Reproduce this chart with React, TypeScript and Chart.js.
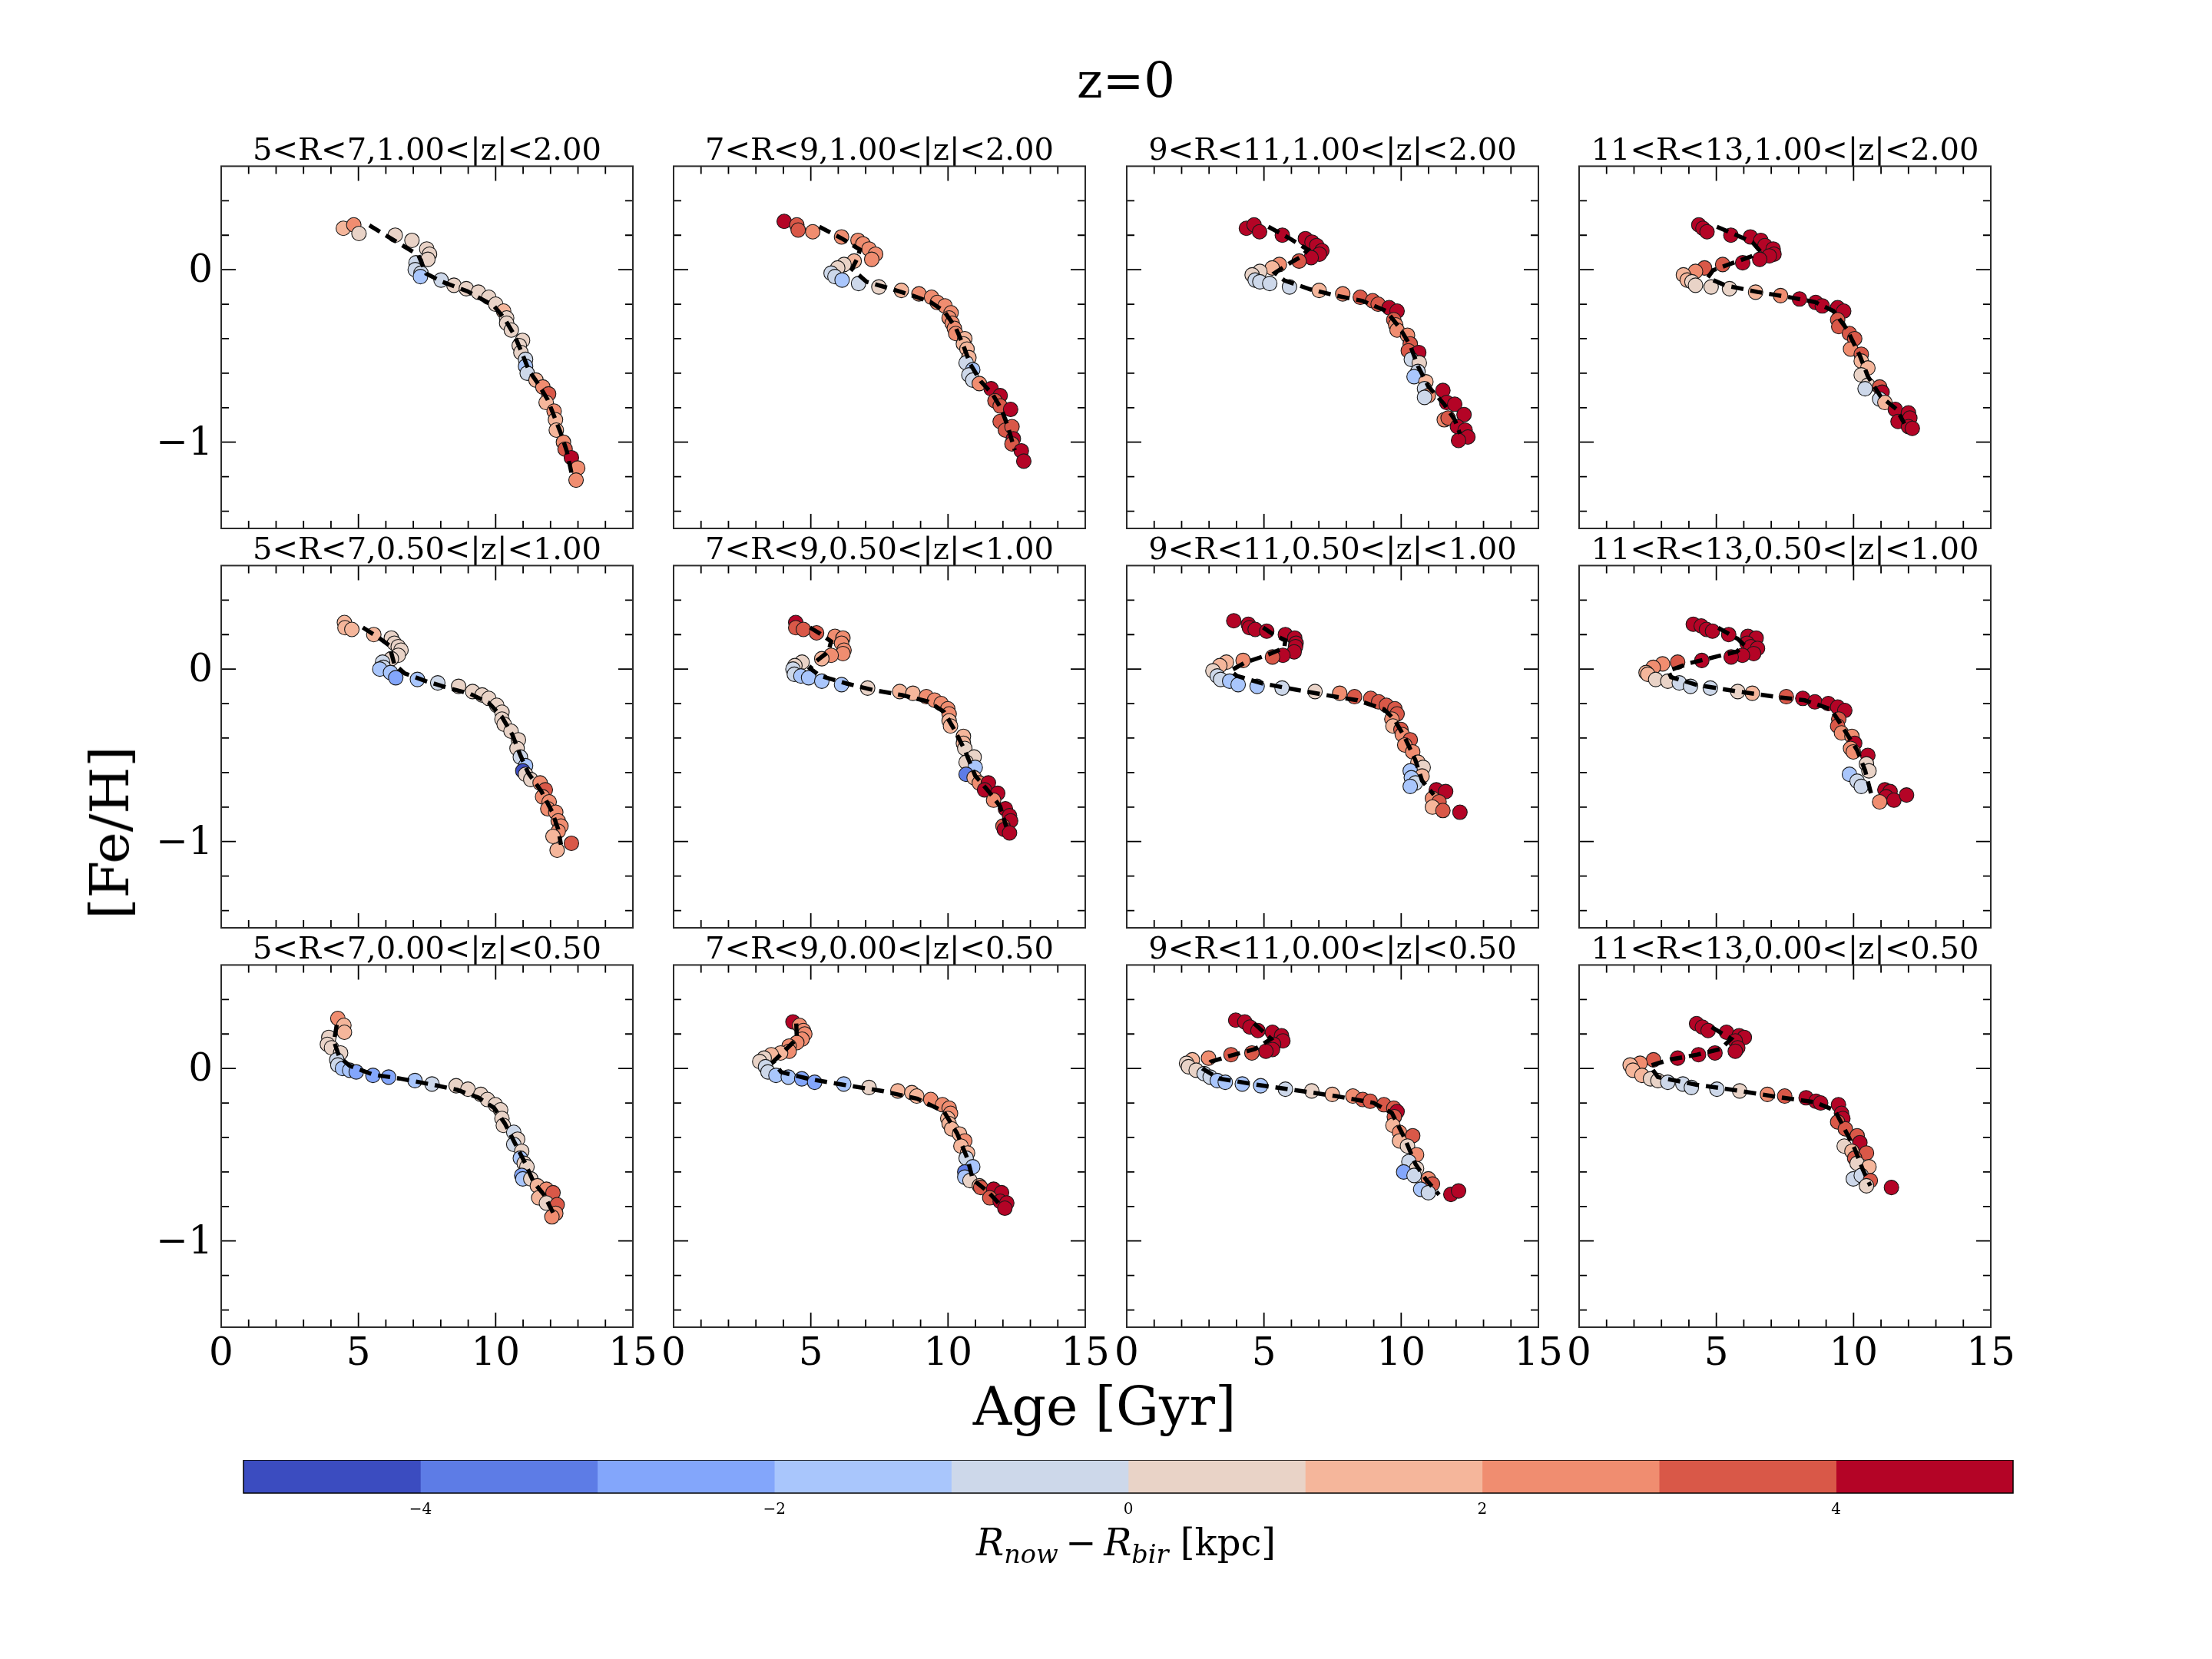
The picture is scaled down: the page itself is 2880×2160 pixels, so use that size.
import React, { useEffect, useRef } from 'react';
import { Chart, registerables } from 'chart.js';
Chart.register(...registerables);

const FONT = "'DejaVu Serif', serif";

// ---------- colour scale (coolwarm, 10 levels, -5..5 kpc) ----------
const CB_EDGES = [-5, -4, -3, -2, -1, 0, 1, 2, 3, 4, 5];
const CB_COLORS = ['#3b4cc0', '#5d7ce6', '#83a6fb', '#a9c6fc', '#cdd8ea', '#e9d3c7', '#f5b69b', '#f08d70', '#d95848', '#b40426'];
const CB_TICKS = [-4, -2, 0, 2, 4];

// ---------- axes ----------
const X_MAJOR = [0, 5, 10, 15];
const X_MINOR = [1, 2, 3, 4, 6, 7, 8, 9, 11, 12, 13, 14];
const Y_MAJOR = [-1, 0];
const Y_MINOR = [-1.4, -1.2, -0.8, -0.6, -0.4, -0.2, 0.2, 0.4];

const R_BINS = ['5<R<7', '7<R<9', '9<R<11', '11<R<13'];
const Z_BINS = ['1.00<|z|<2.00', '0.50<|z|<1.00', '0.00<|z|<0.50'];

// ---------- data: [age, [Fe/H], Rnow-Rbir] ----------
const PTS_R57_Z12 = [[4.45,0.24,1.5],[4.83,0.26,2.5],[5.02,0.21,0.5],[6.34,0.20,0.5],[6.95,0.17,0.5],[7.49,0.12,0.5],[7.59,0.09,0.5],[7.53,0.06,0.5],[7.10,0.04,-0.5],[7.07,0.00,-0.5],[7.28,-0.02,-0.5],[7.26,-0.04,-1.5],[8.01,-0.06,-0.5],[8.48,-0.09,0.5],[8.93,-0.11,0.5],[9.37,-0.13,0.5],[9.75,-0.16,0.5],[10.0,-0.20,0.5],[10.29,-0.24,1.5],[10.40,-0.28,0.5],[10.40,-0.31,0.5],[10.57,-0.35,0.5],[10.98,-0.41,0.5],[10.86,-0.44,0.5],[10.92,-0.48,0.5],[11.09,-0.52,-0.5],[11.09,-0.56,-1.5],[11.15,-0.60,-0.5],[11.47,-0.64,1.5],[11.72,-0.68,2.5],[11.93,-0.72,3.5],[11.84,-0.77,1.5],[12.13,-0.82,2.5],[12.18,-0.87,1.5],[12.21,-0.93,1.5],[12.47,-1.00,2.5],[12.53,-1.04,3.5],[12.76,-1.09,4.5],[12.99,-1.15,2.5],[12.93,-1.22,2.5]];
const LINE_R57_Z12 = [[5.40,0.257],[6.32,0.168],[7.18,0.086],[7.47,-0.023],[8.05,-0.070],[8.97,-0.125],[9.94,-0.210],[10.34,-0.288],[10.69,-0.382],[10.98,-0.491],[11.21,-0.584],[11.55,-0.662],[11.90,-0.755],[12.13,-0.849],[12.36,-0.942],[12.59,-1.051],[12.76,-1.176]];

const PTS_R79_Z12 = [[4.03,0.28,4.5],[4.49,0.26,3.5],[4.54,0.23,3.5],[5.07,0.22,2.5],[6.12,0.19,2.5],[6.72,0.17,2.5],[6.90,0.15,2.5],[7.12,0.12,2.5],[7.36,0.09,2.5],[7.22,0.06,2.5],[6.58,0.05,1.5],[6.21,0.03,0.5],[5.98,0.01,0.5],[5.74,-0.02,-0.5],[5.88,-0.04,-0.5],[6.14,-0.06,-1.5],[6.74,-0.08,-0.5],[7.48,-0.10,0.5],[8.30,-0.12,1.5],[8.94,-0.14,2.5],[9.40,-0.16,2.5],[9.61,-0.19,2.5],[9.89,-0.21,2.5],[10.11,-0.25,2.5],[10.04,-0.28,2.5],[10.15,-0.31,2.5],[10.23,-0.34,2.5],[10.28,-0.37,2.5],[10.61,-0.40,1.5],[10.56,-0.43,1.5],[10.69,-0.46,1.5],[10.76,-0.51,1.5],[10.66,-0.54,-0.5],[10.90,-0.58,-1.5],[10.76,-0.61,-0.5],[10.90,-0.64,-0.5],[11.14,-0.66,2.5],[11.57,-0.69,4.5],[11.90,-0.73,4.5],[11.71,-0.76,3.5],[11.90,-0.79,3.5],[12.28,-0.81,4.5],[11.90,-0.88,3.5],[12.09,-0.93,3.5],[12.33,-0.91,3.5],[12.38,-0.98,4.5],[12.33,-1.01,3.5],[12.67,-1.05,4.5],[12.76,-1.11,4.5]];
const LINE_R79_Z12 = [[5.31,0.249],[6.12,0.182],[6.79,0.116],[6.69,0.064],[6.50,0.004],[7.03,-0.070],[7.84,-0.107],[8.60,-0.144],[9.37,-0.188],[9.85,-0.240],[10.28,-0.336],[10.56,-0.440],[10.80,-0.544],[11.19,-0.647],[11.62,-0.721],[11.95,-0.810],[12.19,-0.914],[12.43,-1.047]];

const PTS_R911_Z12 = [[4.36,0.24,4.5],[4.64,0.26,4.5],[4.84,0.22,4.5],[5.67,0.20,4.5],[6.51,0.18,4.5],[6.75,0.16,4.5],[6.92,0.14,4.5],[7.11,0.11,4.5],[7.02,0.09,4.5],[6.72,0.07,4.5],[6.28,0.05,3.5],[5.56,0.03,2.5],[5.30,0.01,1.5],[4.85,-0.01,0.5],[4.57,-0.03,0.5],[4.68,-0.06,-0.5],[4.85,-0.07,-0.5],[5.21,-0.08,-0.5],[5.93,-0.10,-0.5],[7.01,-0.12,1.5],[7.87,-0.14,2.5],[8.51,-0.16,3.5],[8.96,-0.18,3.5],[9.16,-0.20,3.5],[9.56,-0.22,4.5],[9.85,-0.24,4.5],[9.73,-0.29,3.5],[9.80,-0.32,2.5],[9.85,-0.35,2.5],[10.23,-0.38,2.5],[10.33,-0.43,3.5],[10.26,-0.47,3.5],[10.64,-0.48,4.5],[10.37,-0.52,-0.5],[10.66,-0.54,0.5],[10.61,-0.59,-0.5],[10.47,-0.62,-1.5],[10.90,-0.65,1.5],[10.85,-0.69,-0.5],[10.99,-0.73,2.5],[10.85,-0.74,-0.5],[11.52,-0.70,4.5],[11.66,-0.77,4.5],[11.95,-0.78,4.5],[11.57,-0.87,2.5],[11.71,-0.86,3.5],[12.29,-0.84,4.5],[12.05,-0.91,4.5],[12.33,-0.93,4.5],[12.43,-0.97,4.5],[12.09,-0.99,4.5]];
const LINE_R911_Z12 = [[5.16,0.249],[5.93,0.182],[6.60,0.116],[6.36,0.076],[5.93,0.037],[5.40,-0.018],[5.74,-0.062],[6.69,-0.114],[7.65,-0.151],[8.60,-0.181],[9.46,-0.240],[9.94,-0.336],[10.33,-0.440],[10.61,-0.559],[10.99,-0.677],[11.57,-0.781],[11.95,-0.870],[12.14,-0.951]];

const PTS_R1113_Z12 = [[4.36,0.26,4.5],[4.51,0.24,4.5],[4.66,0.22,4.5],[5.53,0.20,4.5],[6.24,0.19,4.5],[6.62,0.17,4.5],[6.77,0.14,4.5],[7.07,0.12,4.5],[7.10,0.09,4.5],[6.93,0.08,4.5],[6.58,0.06,4.5],[5.96,0.04,4.5],[5.23,0.03,3.5],[4.57,0.01,3.5],[4.24,-0.01,2.5],[3.80,-0.03,1.5],[3.94,-0.06,1.5],[4.11,-0.07,0.5],[4.24,-0.09,0.5],[4.81,-0.10,0.5],[5.48,-0.11,0.5],[6.43,-0.13,1.5],[7.34,-0.15,2.5],[8.03,-0.17,4.5],[8.62,-0.19,4.5],[8.86,-0.21,4.5],[9.42,-0.22,4.5],[9.64,-0.24,4.5],[9.42,-0.29,3.5],[9.46,-0.33,3.5],[9.85,-0.37,3.5],[10.04,-0.40,3.5],[9.89,-0.46,2.5],[10.28,-0.49,3.5],[10.28,-0.53,1.5],[10.52,-0.57,1.5],[10.28,-0.61,0.5],[10.52,-0.67,0.5],[10.42,-0.69,-0.5],[10.95,-0.68,3.5],[11.04,-0.71,4.5],[10.95,-0.75,-0.5],[11.14,-0.77,1.5],[11.52,-0.81,4.5],[11.62,-0.88,4.5],[12.00,-0.83,4.5],[12.05,-0.86,4.5],[12.00,-0.91,4.5],[12.14,-0.92,4.5]];
const LINE_R1113_Z12 = [[5.02,0.249],[5.74,0.200],[6.31,0.160],[6.55,0.116],[6.31,0.079],[5.64,0.041],[4.88,-0.003],[4.68,-0.047],[5.35,-0.092],[6.50,-0.129],[7.65,-0.159],[8.60,-0.188],[9.27,-0.240],[9.75,-0.344],[10.23,-0.499],[10.52,-0.618],[10.99,-0.736],[11.57,-0.810],[11.85,-0.892]];

const PTS_R57_Z051 = [[4.49,0.27,1.5],[4.51,0.24,1.5],[4.76,0.23,1.5],[5.56,0.20,1.5],[6.20,0.18,0.5],[6.31,0.15,0.5],[6.45,0.13,0.5],[6.55,0.11,0.5],[6.45,0.08,0.5],[6.20,0.06,0.5],[5.88,0.04,-0.5],[5.91,0.01,-0.5],[5.78,0.00,-1.5],[6.17,-0.02,-1.5],[6.36,-0.05,-2.5],[7.15,-0.06,-1.5],[7.89,-0.08,-0.5],[8.65,-0.10,0.5],[9.16,-0.13,0.5],[9.51,-0.15,0.5],[9.75,-0.17,0.5],[10.04,-0.21,0.5],[10.23,-0.25,0.5],[10.23,-0.29,0.5],[10.31,-0.32,0.5],[10.56,-0.36,0.5],[10.83,-0.41,0.5],[10.78,-0.46,0.5],[10.90,-0.51,-0.5],[11.09,-0.56,-1.5],[10.99,-0.59,-4.5],[11.09,-0.61,0.5],[11.28,-0.64,0.5],[11.62,-0.66,2.5],[11.81,-0.70,3.5],[11.71,-0.74,2.5],[11.95,-0.77,2.5],[11.90,-0.81,2.5],[12.19,-0.83,2.5],[12.28,-0.88,2.5],[12.38,-0.91,2.5],[12.28,-0.94,2.5],[12.09,-0.97,1.5],[12.76,-1.01,3.5],[12.24,-1.05,1.5]];
const LINE_R57_Z051 = [[5.16,0.241],[5.74,0.182],[6.12,0.138],[6.21,0.086],[6.31,0.027],[6.69,-0.025],[7.46,-0.070],[8.22,-0.107],[9.08,-0.144],[9.75,-0.196],[10.23,-0.277],[10.61,-0.381],[10.90,-0.499],[11.19,-0.603],[11.66,-0.707],[12.05,-0.825],[12.28,-0.929],[12.38,-1.018]];

const PTS_R79_Z051 = [[4.45,0.27,4.5],[4.45,0.24,3.5],[4.73,0.23,3.5],[5.21,0.21,3.5],[5.88,0.19,2.5],[6.17,0.18,2.5],[6.12,0.15,2.5],[6.21,0.11,2.5],[6.17,0.09,2.5],[5.74,0.08,2.5],[5.40,0.06,1.5],[4.68,0.04,0.5],[4.42,0.02,0.5],[4.35,0.00,-0.5],[4.40,-0.03,-0.5],[4.64,-0.04,-1.5],[4.92,-0.05,-1.5],[5.40,-0.07,-1.5],[6.12,-0.09,-1.5],[7.07,-0.11,0.5],[8.24,-0.13,1.5],[8.72,-0.14,1.5],[9.21,-0.16,2.5],[9.51,-0.18,2.5],[9.75,-0.20,2.5],[9.99,-0.23,2.5],[10.04,-0.26,2.5],[10.04,-0.30,1.5],[10.09,-0.33,1.5],[10.56,-0.39,1.5],[10.56,-0.43,1.5],[10.61,-0.46,0.5],[10.95,-0.51,0.5],[10.66,-0.54,0.5],[10.99,-0.57,-1.5],[10.66,-0.61,-3.5],[10.95,-0.63,1.5],[11.14,-0.66,2.5],[11.47,-0.66,4.5],[11.33,-0.70,4.5],[11.81,-0.72,4.5],[11.66,-0.76,2.5],[12.09,-0.81,4.5],[12.24,-0.85,4.5],[12.28,-0.88,4.5],[12.00,-0.91,3.5],[12.05,-0.93,4.5],[12.24,-0.95,4.5]];
const LINE_R79_Z051 = [[4.97,0.241],[5.35,0.204],[5.74,0.160],[5.64,0.101],[5.16,0.041],[4.97,0.004],[5.35,-0.040],[6.31,-0.084],[7.27,-0.121],[8.32,-0.151],[9.27,-0.188],[9.85,-0.247],[10.23,-0.351],[10.61,-0.470],[10.99,-0.618],[11.47,-0.707],[11.90,-0.796],[12.12,-0.914]];

const PTS_R911_Z051 = [[3.90,0.28,4.5],[4.43,0.26,4.5],[4.47,0.24,4.5],[4.68,0.23,4.5],[5.10,0.22,4.5],[5.78,0.20,4.5],[6.12,0.18,4.5],[6.17,0.15,4.5],[6.15,0.13,4.5],[6.10,0.10,4.5],[5.69,0.08,4.5],[5.31,0.07,3.5],[4.24,0.05,2.5],[3.63,0.04,1.5],[3.39,0.02,1.5],[3.14,-0.01,0.5],[3.30,-0.04,-0.5],[3.42,-0.06,-0.5],[3.75,-0.07,-1.5],[4.06,-0.09,-1.5],[4.75,-0.10,-1.5],[5.66,-0.11,-0.5],[6.86,-0.13,0.5],[7.76,-0.14,2.5],[8.30,-0.16,3.5],[8.89,-0.17,3.5],[9.18,-0.19,3.5],[9.46,-0.21,3.5],[9.77,-0.23,3.5],[9.85,-0.26,3.5],[9.66,-0.29,2.5],[9.70,-0.33,1.5],[9.99,-0.35,3.5],[10.04,-0.38,2.5],[10.33,-0.41,3.5],[10.13,-0.44,2.5],[10.42,-0.48,2.5],[10.61,-0.54,1.5],[10.80,-0.57,0.5],[10.33,-0.59,-1.5],[10.76,-0.62,1.5],[10.37,-0.63,-1.5],[10.52,-0.66,-0.5],[10.33,-0.68,-1.5],[11.28,-0.70,4.5],[11.62,-0.71,4.5],[11.14,-0.75,2.5],[11.38,-0.77,3.5],[11.14,-0.80,1.5],[11.52,-0.82,3.5],[12.14,-0.83,4.5]];
const LINE_R911_Z051 = [[4.97,0.241],[5.31,0.204],[5.78,0.167],[5.74,0.123],[5.07,0.079],[4.30,0.037],[3.78,-0.010],[4.02,-0.040],[4.97,-0.084],[6.21,-0.121],[7.27,-0.151],[8.41,-0.181],[9.37,-0.233],[9.75,-0.292],[10.13,-0.396],[10.52,-0.529],[10.76,-0.647],[11.19,-0.729]];

const PTS_R1113_Z051 = [[4.16,0.26,4.5],[4.45,0.25,4.5],[4.64,0.23,4.5],[4.86,0.22,4.5],[5.45,0.20,4.5],[6.15,0.19,4.5],[6.45,0.18,4.5],[6.12,0.15,4.5],[6.26,0.13,4.5],[6.50,0.12,4.5],[6.36,0.09,4.5],[5.95,0.08,4.5],[5.54,0.07,4.5],[4.47,0.05,4.5],[3.59,0.04,3.5],[3.04,0.03,2.5],[2.70,0.01,2.5],[2.44,-0.02,1.5],[2.50,-0.03,1.5],[2.79,-0.06,0.5],[3.23,-0.07,0.5],[3.65,-0.08,-0.5],[4.06,-0.10,-0.5],[4.78,-0.11,-0.5],[5.78,-0.13,0.5],[6.31,-0.14,1.5],[7.55,-0.16,3.5],[8.15,-0.17,4.5],[8.59,-0.19,4.5],[9.08,-0.20,4.5],[9.42,-0.22,4.5],[9.68,-0.24,4.5],[9.46,-0.29,3.5],[9.42,-0.33,3.5],[9.56,-0.37,2.5],[9.94,-0.39,2.5],[10.04,-0.43,4.5],[9.89,-0.46,2.5],[9.99,-0.48,2.5],[10.52,-0.50,4.5],[10.47,-0.55,0.5],[10.56,-0.59,0.5],[9.85,-0.61,-1.5],[10.13,-0.65,-0.5],[10.28,-0.68,-0.5],[11.14,-0.70,4.5],[11.33,-0.71,4.5],[11.19,-0.74,4.5],[11.47,-0.76,4.5],[10.95,-0.77,2.5],[11.93,-0.73,4.5]];
const LINE_R1113_Z051 = [[5.07,0.239],[5.78,0.175],[6.02,0.138],[5.74,0.101],[4.97,0.071],[4.02,0.034],[3.25,-0.010],[3.35,-0.047],[4.30,-0.092],[5.74,-0.129],[7.07,-0.159],[8.22,-0.181],[9.18,-0.233],[9.66,-0.351],[10.13,-0.470],[10.42,-0.588],[10.66,-0.736]];

const PTS_R57_Z005 = [[4.25,0.29,2.5],[4.47,0.25,1.5],[4.49,0.21,1.5],[3.92,0.18,0.5],[3.87,0.14,0.5],[4.02,0.12,0.5],[4.35,0.09,0.5],[4.21,0.05,-0.5],[4.25,0.02,-0.5],[4.42,0.00,-1.5],[4.68,-0.01,-1.5],[4.92,-0.02,-2.5],[5.53,-0.04,-2.5],[6.10,-0.05,-2.5],[7.06,-0.07,-1.5],[7.68,-0.09,-0.5],[8.56,-0.10,0.5],[8.99,-0.12,0.5],[9.46,-0.15,0.5],[9.70,-0.18,0.5],[9.99,-0.21,0.5],[10.18,-0.24,0.5],[10.23,-0.29,0.5],[10.28,-0.33,0.5],[10.66,-0.37,-0.5],[10.80,-0.41,0.5],[10.66,-0.44,-0.5],[10.95,-0.48,0.5],[10.90,-0.52,-1.5],[11.04,-0.55,0.5],[11.14,-0.57,0.5],[10.95,-0.62,-2.5],[10.99,-0.64,-1.5],[11.28,-0.64,0.5],[11.52,-0.68,1.5],[11.85,-0.70,2.5],[12.09,-0.72,3.5],[11.57,-0.75,1.5],[11.85,-0.78,0.5],[12.24,-0.79,3.5],[12.19,-0.84,2.5],[12.05,-0.86,2.5]];
const LINE_R57_Z005 = [[4.21,0.253],[4.11,0.157],[4.30,0.068],[4.68,0.016],[5.54,-0.036],[6.50,-0.058],[7.74,-0.095],[8.60,-0.124],[9.37,-0.169],[9.94,-0.228],[10.33,-0.317],[10.71,-0.436],[11.09,-0.554],[11.38,-0.658],[11.76,-0.732],[12.09,-0.836]];

const PTS_R79_Z005 = [[4.35,0.27,4.5],[4.59,0.25,2.5],[4.73,0.22,2.5],[4.78,0.20,2.5],[4.68,0.17,2.5],[4.49,0.15,2.5],[4.21,0.13,2.5],[4.21,0.10,2.5],[3.90,0.09,1.5],[3.56,0.08,1.5],[3.30,0.06,0.5],[3.14,0.04,0.5],[3.35,0.01,-0.5],[3.44,-0.02,-0.5],[3.73,-0.04,-1.5],[4.18,-0.05,-1.5],[4.67,-0.06,-2.5],[5.14,-0.08,-2.5],[6.20,-0.09,-1.5],[7.12,-0.11,0.5],[8.17,-0.13,1.5],[8.68,-0.14,1.5],[8.86,-0.16,1.5],[9.37,-0.18,2.5],[9.80,-0.21,2.5],[10.04,-0.23,2.5],[10.09,-0.26,2.5],[9.99,-0.29,1.5],[10.04,-0.32,1.5],[10.13,-0.35,1.5],[10.42,-0.38,1.5],[10.61,-0.42,2.5],[10.47,-0.45,1.5],[10.71,-0.49,1.5],[10.66,-0.52,-0.5],[10.90,-0.57,-1.5],[10.61,-0.60,-3.5],[10.61,-0.63,-1.5],[10.80,-0.65,0.5],[11.14,-0.68,1.5],[11.19,-0.69,3.5],[11.66,-0.70,4.5],[11.95,-0.72,4.5],[11.52,-0.75,3.5],[11.90,-0.77,4.5],[12.14,-0.78,4.5],[12.07,-0.81,4.5]];
const LINE_R79_Z005 = [[4.47,0.261],[4.49,0.172],[4.11,0.113],[3.63,0.039],[3.92,-0.021],[4.97,-0.062],[6.21,-0.095],[7.65,-0.132],[8.89,-0.176],[9.85,-0.250],[10.33,-0.376],[10.71,-0.524],[10.90,-0.643],[11.47,-0.717],[11.95,-0.799]];

const PTS_R911_Z005 = [[3.97,0.28,4.5],[4.30,0.27,4.5],[4.49,0.24,4.5],[4.78,0.22,4.5],[5.31,0.21,4.5],[5.64,0.19,4.5],[5.69,0.16,4.5],[5.35,0.14,4.5],[5.31,0.11,4.5],[5.07,0.10,4.5],[4.56,0.09,3.5],[3.80,0.08,3.5],[2.98,0.06,2.5],[2.39,0.05,1.5],[2.18,0.03,0.5],[2.25,0.01,0.5],[2.53,-0.01,0.5],[2.82,-0.03,-0.5],[3.04,-0.05,-0.5],[3.30,-0.07,-1.5],[3.59,-0.08,-1.5],[4.21,-0.09,-1.5],[4.88,-0.10,-1.5],[5.78,-0.12,-0.5],[6.74,-0.13,0.5],[7.49,-0.15,1.5],[8.24,-0.16,2.5],[8.60,-0.18,3.5],[8.87,-0.19,3.5],[9.37,-0.21,3.5],[9.73,-0.23,3.5],[9.85,-0.25,4.5],[9.75,-0.28,3.5],[9.70,-0.33,1.5],[9.94,-0.37,2.5],[10.42,-0.39,3.5],[9.94,-0.42,1.5],[10.23,-0.45,0.5],[10.56,-0.50,2.5],[10.28,-0.54,-0.5],[10.56,-0.58,0.5],[10.09,-0.60,-2.5],[10.47,-0.62,-0.5],[10.99,-0.64,2.5],[11.14,-0.67,3.5],[10.71,-0.70,-1.5],[10.99,-0.72,-0.5],[11.81,-0.73,4.5],[12.09,-0.71,4.5]];
const LINE_R911_Z005 = [[4.64,0.261],[5.26,0.172],[4.68,0.113],[3.82,0.076],[3.06,0.039],[2.82,-0.006],[3.35,-0.058],[4.78,-0.095],[6.21,-0.127],[7.65,-0.161],[8.99,-0.199],[9.66,-0.258],[10.13,-0.406],[10.52,-0.554],[10.90,-0.643],[11.38,-0.732]];

const PTS_R1113_Z005 = [[4.28,0.26,4.5],[4.49,0.24,4.5],[4.70,0.22,4.5],[5.37,0.21,4.5],[5.83,0.19,4.5],[6.02,0.18,4.5],[5.69,0.16,4.5],[5.78,0.12,4.5],[5.69,0.10,4.5],[4.95,0.09,4.5],[4.35,0.08,4.5],[3.59,0.06,4.5],[2.71,0.05,3.5],[2.22,0.03,2.5],[1.86,0.02,1.5],[1.96,-0.01,1.5],[2.29,-0.04,1.5],[2.60,-0.06,0.5],[2.87,-0.07,0.5],[3.23,-0.08,-0.5],[3.78,-0.09,-0.5],[4.09,-0.11,-0.5],[5.02,-0.12,-0.5],[5.85,-0.13,0.5],[6.86,-0.15,2.5],[7.49,-0.16,3.5],[8.27,-0.17,4.5],[8.63,-0.19,4.5],[8.80,-0.20,4.5],[9.45,-0.21,4.5],[9.56,-0.26,4.5],[9.61,-0.29,4.5],[9.42,-0.31,3.5],[9.70,-0.35,3.5],[10.13,-0.39,3.5],[10.23,-0.43,4.5],[9.66,-0.45,0.5],[9.94,-0.48,1.5],[10.47,-0.49,3.5],[10.04,-0.52,3.5],[10.13,-0.55,0.5],[10.56,-0.57,1.5],[9.99,-0.64,-0.5],[10.28,-0.62,-0.5],[10.61,-0.65,3.5],[10.47,-0.68,0.5],[11.38,-0.69,4.5]];
const LINE_R1113_Z005 = [[4.83,0.239],[5.54,0.172],[5.16,0.113],[4.30,0.080],[3.35,0.053],[2.58,0.016],[2.87,-0.050],[4.30,-0.095],[5.74,-0.127],[7.27,-0.166],[8.60,-0.196],[9.32,-0.243],[9.66,-0.347],[10.04,-0.465],[10.33,-0.584],[10.61,-0.680]];

const PANEL_PTS = [
  [PTS_R57_Z12, PTS_R79_Z12, PTS_R911_Z12, PTS_R1113_Z12],
  [PTS_R57_Z051, PTS_R79_Z051, PTS_R911_Z051, PTS_R1113_Z051],
  [PTS_R57_Z005, PTS_R79_Z005, PTS_R911_Z005, PTS_R1113_Z005],
];
const PANEL_LINES = [
  [LINE_R57_Z12, LINE_R79_Z12, LINE_R911_Z12, LINE_R1113_Z12],
  [LINE_R57_Z051, LINE_R79_Z051, LINE_R911_Z051, LINE_R1113_Z051],
  [LINE_R57_Z005, LINE_R79_Z005, LINE_R911_Z005, LINE_R1113_Z005],
];

// ---------- layout ----------
const COL_LEFT = [288, 877, 1467, 2056];
const ROW_TOP = [216, 736, 1256];
const PANEL_W = 536;
const PANEL_H = 472;
const PAD_L = 110;
const PAD_R = 44;
const TITLE_SIZE = 40;
const TITLE_LH = 0.96;
const TITLE_PAD_TOP = 22;
const PAD_T = TITLE_PAD_TOP + Math.round(TITLE_SIZE * TITLE_LH);
const PAD_B = 80;
const MAJOR_LEN = 19;
const MINOR_LEN = 10;

const fmt = (v: number) => (v < 0 ? '\u2212' + Math.abs(v) : String(v));
const colorFor = (d: number) => {
  let i = Math.floor(d - CB_EDGES[0]);
  if (i < 0) i = 0;
  if (i > CB_COLORS.length - 1) i = CB_COLORS.length - 1;
  return CB_COLORS[i];
};

const framePlugin = {
  id: 'frameTicks',
  afterDraw(chart: any) {
    const { ctx, chartArea: a, scales } = chart;
    const x = scales.x, y = scales.y;
    ctx.save();
    ctx.strokeStyle = '#000';
    ctx.lineWidth = 1.8;
    ctx.beginPath();
    const vt = (v: number, len: number) => {
      const px = x.getPixelForValue(v);
      ctx.moveTo(px, a.bottom); ctx.lineTo(px, a.bottom - len);
      ctx.moveTo(px, a.top); ctx.lineTo(px, a.top + len);
    };
    const ht = (v: number, len: number) => {
      const py = y.getPixelForValue(v);
      ctx.moveTo(a.left, py); ctx.lineTo(a.left + len, py);
      ctx.moveTo(a.right, py); ctx.lineTo(a.right - len, py);
    };
    X_MAJOR.forEach((v) => vt(v, MAJOR_LEN));
    X_MINOR.forEach((v) => vt(v, MINOR_LEN));
    Y_MAJOR.forEach((v) => ht(v, MAJOR_LEN));
    Y_MINOR.forEach((v) => ht(v, MINOR_LEN));
    ctx.stroke();
    ctx.strokeStyle = '#2b2b2b';
    ctx.lineWidth = 2;
    ctx.strokeRect(a.left, a.top, a.right - a.left, a.bottom - a.top);
    ctx.restore();
  },
};

function Panel({ row, col }: { row: number; col: number }) {
  const ref = useRef<HTMLCanvasElement>(null);
  const W = PAD_L + PANEL_W + PAD_R;
  const H = PAD_T + PANEL_H + PAD_B;
  useEffect(() => {
    const pts = PANEL_PTS[row][col];
    const line = PANEL_LINES[row][col];
    const showX = row === 2;
    const showY = col === 0;
    const tickFont = { family: FONT, size: 50, lineHeight: 1.0 };
    const chart = new Chart(ref.current as HTMLCanvasElement, {
      type: 'scatter',
      data: {
        datasets: [
          {
            type: 'line',
            data: line.map(([px, py]) => ({ x: px, y: py })),
            borderColor: '#000',
            borderWidth: 5.5,
            borderDash: [16, 9],
            borderCapStyle: 'butt',
            pointRadius: 0,
            showLine: true,
            fill: false,
            tension: 0,
            order: 0,
          } as any,
          {
            type: 'scatter',
            data: pts.map(([px, py]) => ({ x: px, y: py })),
            pointRadius: 9.5,
            pointBackgroundColor: pts.map((p) => colorFor(p[2])),
            pointBorderColor: '#1a1a1a',
            pointBorderWidth: 1.1,
            order: 1,
          } as any,
        ],
      },
      options: {
        animation: false,
        responsive: false,
        devicePixelRatio: 1,
        events: [],
        layout: { padding: { left: 0, right: PAD_R, top: 0, bottom: 0 } },
        plugins: {
          legend: { display: false },
          tooltip: { enabled: false },
          title: {
            display: true,
            fullSize: false,
            text: R_BINS[col] + ',' + Z_BINS[row],
            color: '#000',
            font: { family: FONT, size: TITLE_SIZE, weight: 'normal', lineHeight: TITLE_LH },
            padding: { top: TITLE_PAD_TOP, bottom: 0 },
          },
        },
        scales: {
          x: {
            type: 'linear',
            min: 0,
            max: 15,
            grid: { display: false },
            border: { display: false },
            afterBuildTicks: (s: any) => { s.ticks = X_MAJOR.map((v) => ({ value: v })); },
            afterFit: (s: any) => { s.height = PAD_B; },
            ticks: { display: showX, color: '#000', font: tickFont, padding: 3, maxRotation: 0, autoSkip: false, callback: (v: any) => fmt(Number(v)) },
          },
          y: {
            type: 'linear',
            min: -1.5,
            max: 0.6,
            grid: { display: false },
            border: { display: false },
            afterBuildTicks: (s: any) => { s.ticks = Y_MAJOR.map((v) => ({ value: v })); },
            afterFit: (s: any) => { s.width = PAD_L; },
            ticks: { display: showY, color: '#000', font: tickFont, padding: 3, labelOffset: 3, autoSkip: false, callback: (v: any) => fmt(Number(v)) },
          },
        },
      } as any,
      plugins: [framePlugin],
    });
    return () => chart.destroy();
  }, [row, col]);
  return (
    <canvas
      ref={ref}
      width={W}
      height={H}
      style={{ position: 'absolute', left: COL_LEFT[col] - PAD_L, top: ROW_TOP[row] - PAD_T, width: W, height: H }}
    />
  );
}

// ---------- colorbar ----------
const CB_LEFT = 317;
const CB_TOP = 1901;
const CB_W = 2304;
const CB_H = 43;
const CB_PAD = 40;
const CB_AXIS_H = 44;

const outlinePlugin = {
  id: 'cbOutline',
  afterDraw(chart: any) {
    const { ctx, chartArea: a } = chart;
    ctx.save();
    ctx.strokeStyle = '#000';
    ctx.lineWidth = 1.5;
    ctx.strokeRect(a.left, a.top, a.right - a.left, a.bottom - a.top);
    ctx.restore();
  },
};

function Colorbar() {
  const ref = useRef<HTMLCanvasElement>(null);
  const W = CB_W + 2 * CB_PAD;
  const H = CB_H + CB_AXIS_H;
  useEffect(() => {
    const datasets = CB_COLORS.map((c, i) => ({
      data: [[CB_EDGES[i], CB_EDGES[i + 1]]],
      backgroundColor: c,
      borderWidth: 0,
      barPercentage: 1,
      categoryPercentage: 1,
      grouped: false,
    }));
    const chart = new Chart(ref.current as HTMLCanvasElement, {
      type: 'bar',
      data: { labels: [''], datasets: datasets as any },
      options: {
        animation: false,
        responsive: false,
        devicePixelRatio: 1,
        events: [],
        indexAxis: 'y',
        layout: { padding: { left: CB_PAD, right: CB_PAD, top: 0, bottom: 0 } },
        plugins: { legend: { display: false }, tooltip: { enabled: false } },
        scales: {
          x: {
            type: 'linear',
            min: CB_EDGES[0],
            max: CB_EDGES[CB_EDGES.length - 1],
            grid: { display: false },
            border: { display: false },
            afterBuildTicks: (s: any) => { s.ticks = CB_TICKS.map((v) => ({ value: v })); },
            afterFit: (s: any) => { s.height = CB_AXIS_H; },
            ticks: { color: '#000', font: { family: FONT, size: 20 }, padding: 2, maxRotation: 0, autoSkip: false, callback: (v: any) => fmt(Number(v)) },
          },
          y: { display: false },
        },
      } as any,
      plugins: [outlinePlugin],
    });
    return () => chart.destroy();
  }, []);
  return (
    <canvas
      ref={ref}
      width={W}
      height={H}
      style={{ position: 'absolute', left: CB_LEFT - CB_PAD, top: CB_TOP, width: W, height: H }}
    />
  );
}

const centered = (x: number, y: number, size: number, extra: any = {}) => ({
  position: 'absolute' as const,
  left: x,
  top: y,
  transform: 'translate(-50%, -50%)' + (extra.rotate ? ` rotate(${extra.rotate}deg)` : ''),
  fontFamily: FONT,
  fontSize: size,
  lineHeight: 1,
  whiteSpace: 'nowrap' as const,
  color: '#000',
});

export default function App() {
  const cells: any[] = [];
  for (let r = 0; r < 3; r++) for (let c = 0; c < 4; c++) cells.push(<Panel key={`${r}-${c}`} row={r} col={c} />);
  const subStyle = { fontSize: '0.7em', fontStyle: 'italic', verticalAlign: '-0.3em', lineHeight: 0 };
  return (
    <div style={{ position: 'absolute', left: 0, top: 0, width: 2880, height: 2160, background: '#fff', overflow: 'hidden' }}>
      <div style={centered(1466, 105, 64)}>z=0</div>
      {cells}
      <div style={centered(1438, 1831, 70)}>Age [Gyr]</div>
      <div style={centered(143, 1084, 70, { rotate: -90 })}>[Fe/H]</div>
      <Colorbar />
      <div style={centered(1466, 2008, 48)}>
        <i>R</i><sub style={subStyle}>now</sub>{'\u2009\u2212\u2009'}<i>R</i><sub style={subStyle}>bir</sub> [kpc]
      </div>
    </div>
  );
}
